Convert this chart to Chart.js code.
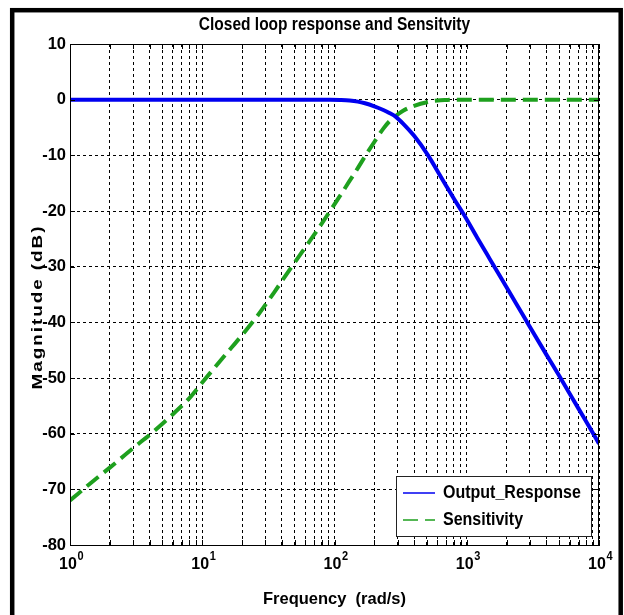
<!DOCTYPE html>
<html>
<head>
<meta charset="utf-8">
<title>Closed loop response and Sensitvity</title>
<script src="https://cdn.jsdelivr.net/npm/chart.js@4.4.0/dist/chart.umd.min.js"></script>
<style>
  html, body { margin: 0; padding: 0; background: #fff; }
  canvas { display: block; }
</style>
</head>
<body>
<canvas id="bodeChart" width="624" height="615"></canvas>
<script>
// frequency points (rad/s) and magnitudes (dB) of both loops
const omega = [1, 1.5, 2, 3, 4, 5, 6, 8, 10, 15, 20, 26, 35, 47.5, 70, 92.6, 110, 130, 150, 170,
               200, 234, 260, 288, 330, 400, 510, 600, 700, 800, 943, 1200, 1500, 2000, 2800, 4000,
               5000, 7000, 8500, 10000];
const outputResponse = [0, 0, 0, 0, 0, 0, 0, 0, 0, 0, 0, 0, 0, 0, 0, 0, -0.05, -0.15, -0.35, -0.65,
                        -1.2, -1.85, -2.4, -3.0, -4.3, -6.5, -10, -12.8, -15.5, -17.8, -20.5, -24.8, -28.7, -33.7, -39.6, -45.8,
                        -49.6, -55.5, -58.9, -61.8];
const sensitivity = [-72, -68.5, -66.1, -62.6, -60.2, -58.2, -56.5, -53.6, -50.8, -45.8, -42.3, -38.9, -34.6, -30, -24.3, -20, -17.3, -14.6, -12.3, -10.2,
                     -7.6, -5.2, -3.9, -3.0, -2.0, -1.1, -0.4, -0.15, -0.05, 0, 0, 0, 0, 0, 0, 0,
                     0, 0, 0, 0];

const decades = [1, 10, 100, 1000, 10000];
const magMin = -80;
const magMax = 10;
const magStep = 10;

const seriesNames = ['Output_Response', 'Sensitivity'];
const chartTitle = 'Closed loop response and Sensitvity';
const xLabel = 'Frequency  (rad/s)';
const yLabel = 'Magnitude (dB)';

const SANS = "'Liberation Sans', Arial, Helvetica, sans-serif";
const BLUE = '#0000f0';
const GREEN = '#1ea01e';

// 1..9 per decade, like a matlab log grid
const logTicks = [];
decades.slice(0, -1).forEach(d => {
    for (let k = 1; k <= 9; k++) logTicks.push(k * d);
});
logTicks.push(decades[decades.length - 1]);

// text drawn a little taller than the font, the figure was exported stretched
function tallText(ctx, text, x, y, stretch) {
    ctx.save();
    ctx.translate(x, y);
    ctx.scale(1, stretch);
    ctx.fillText(text, 0, 0);
    ctx.restore();
}

const matlabFrame = {
    id: 'matlabFrame',
    beforeDraw(chart) {
        const ctx = chart.ctx;
        ctx.save();
        ctx.fillStyle = '#fff';
        ctx.fillRect(0, 0, chart.width, chart.height);
        ctx.strokeStyle = '#000';
        ctx.lineWidth = 4.5;
        ctx.strokeRect(12.2, 10.2, 608.5, 640);
        ctx.restore();
    },
    afterDraw(chart) {
        const { ctx, chartArea: a, scales: { x, y } } = chart;
        ctx.save();

        // axes box with inward ticks
        ctx.strokeStyle = '#000';
        ctx.lineWidth = 1;
        ctx.strokeRect(a.left + 0.5, a.top + 0.5, a.right - a.left - 1, a.bottom - a.top);
        ctx.beginPath();
        logTicks.forEach(v => {
            const px = Math.round(x.getPixelForValue(v)) + 0.5;
            ctx.moveTo(px, a.bottom);
            ctx.lineTo(px, a.bottom - 5);
            ctx.moveTo(px, a.top);
            ctx.lineTo(px, a.top + 5);
        });
        for (let m = magMin; m <= magMax; m += magStep) {
            const py = Math.round(y.getPixelForValue(m)) + 0.5;
            ctx.moveTo(a.left, py);
            ctx.lineTo(a.left + 5, py);
            ctx.moveTo(a.right, py);
            ctx.lineTo(a.right - 5, py);
        }
        ctx.stroke();

        // title
        ctx.fillStyle = '#000';
        ctx.textAlign = 'center';
        ctx.textBaseline = 'middle';
        ctx.font = `bold 15.5px ${SANS}`;
        tallText(ctx, chartTitle, (a.left + a.right) / 2, 24.5, 1.18);

        // exponents of the decade labels
        ctx.font = `bold 11px ${SANS}`;
        ctx.textAlign = 'left';
        decades.forEach(d => {
            const px = x.getPixelForValue(d);
            tallText(ctx, String(Math.round(Math.log10(d))), px + 7.5, 557, 1.15);
        });

        // rotated y label, stretched along its length with spread letters
        ctx.save();
        ctx.translate(41.5, 307);
        ctx.rotate(-Math.PI / 2);
        ctx.scale(1.22, 1);
        ctx.font = `bold 15.5px ${SANS}`;
        ctx.letterSpacing = '1.6px';
        ctx.textAlign = 'center';
        ctx.textBaseline = 'alphabetic';
        ctx.fillText(yLabel, 0, 0);
        ctx.restore();

        // legend box
        const lx = 396.5, ly = 476.5, lw = 195, lh = 60;
        ctx.fillStyle = '#fff';
        ctx.fillRect(lx, ly, lw, lh);
        ctx.strokeStyle = '#222';
        ctx.lineWidth = 1;
        ctx.strokeRect(lx, ly, lw, lh);
        const rows = [493, 520];
        chart.data.datasets.forEach((ds, i) => {
            ctx.beginPath();
            ctx.strokeStyle = ds.borderColor;
            ctx.lineWidth = 1.5;
            ctx.setLineDash(ds.borderDash || []);
            ctx.moveTo(403, rows[i]);
            ctx.lineTo(435, rows[i]);
            ctx.stroke();
            ctx.setLineDash([]);
            ctx.fillStyle = '#000';
            ctx.font = `bold 16px ${SANS}`;
            ctx.textAlign = 'left';
            ctx.textBaseline = 'middle';
            tallText(ctx, ds.label, 443, rows[i], 1.15);
        });

        ctx.restore();
    }
};

const ctx = document.getElementById('bodeChart').getContext('2d');
const bodeChart = new Chart(ctx, {
    type: 'line',
    data: {
        datasets: [
            {
                label: seriesNames[0],
                data: omega.map((w, i) => ({ x: w, y: outputResponse[i] })),
                borderColor: BLUE,
                borderWidth: 4,
                pointRadius: 0,
                fill: false,
                cubicInterpolationMode: 'monotone'
            },
            {
                label: seriesNames[1],
                data: omega.map((w, i) => ({ x: w, y: sensitivity[i] })),
                borderColor: GREEN,
                borderWidth: 4,
                borderDash: [15, 7],
                pointRadius: 0,
                fill: false,
                cubicInterpolationMode: 'monotone'
            }
        ]
    },
    options: {
        responsive: false,
        animation: false,
        layout: { padding: { left: 0, top: 44, right: 25, bottom: 0 } },
        plugins: {
            legend: { display: false },
            title: { display: false },
            tooltip: { enabled: false }
        },
        scales: {
            x: {
                type: 'logarithmic',
                min: decades[0],
                max: decades[decades.length - 1],
                afterBuildTicks: scale => { scale.ticks = logTicks.map(v => ({ value: v })); },
                afterFit: scale => { scale.height = 70; },
                ticks: {
                    autoSkip: false,
                    maxRotation: 0,
                    padding: 10,
                    labelOffset: -2,
                    color: '#000',
                    font: { family: SANS, size: 16, weight: 'bold' },
                    callback: v => decades.includes(v) ? '10' : ''
                },
                grid: { color: '#000', lineWidth: 1, drawTicks: false },
                border: { display: true, color: '#000', dash: [3, 3] },
                title: {
                    display: true,
                    text: xLabel,
                    color: '#000',
                    font: { family: SANS, size: 16.5, weight: 'bold' },
                    padding: { top: 0, bottom: 6 }
                }
            },
            y: {
                min: magMin,
                max: magMax,
                afterFit: scale => { scale.width = 70; },
                ticks: {
                    stepSize: magStep,
                    padding: 4,
                    color: '#000',
                    font: { family: SANS, size: 16.5, weight: 'bold' }
                },
                grid: { color: '#000', lineWidth: 1, drawTicks: false },
                border: { display: true, color: '#000', dash: [3, 3] }
            }
        }
    },
    plugins: [matlabFrame]
});
</script>
</body>
</html>
